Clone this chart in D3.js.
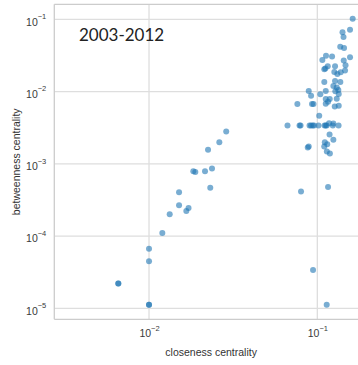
<!DOCTYPE html>
<html>
<head>
<meta charset="utf-8">
<script src="https://cdn.jsdelivr.net/npm/d3@7"></script>
<style>
  html, body { margin: 0; padding: 0; background: #fff; }
  svg { display: block; }
</style>
</head>
<body>
<svg id="chart" width="358" height="365"></svg>
<script>
// ---- data ----
const title = "2003-2012";
const xLabel = "closeness centrality";
const yLabel = "betweenness centrality";
const xTicks = [1e-2, 1e-1];
const yTicks = [1e-5, 1e-4, 1e-3, 1e-2, 1e-1];

const closeness = [
  0.1622, 0.1564, 0.1411, 0.1431, 0.1368, 0.1441, 0.1126, 0.1223, 0.1564, 0.1071,
  0.1435, 0.1471, 0.1153, 0.1274, 0.1100, 0.1116, 0.1262, 0.1377, 0.1461, 0.1315,
  0.1100, 0.1274, 0.1370, 0.1245, 0.1304, 0.1333, 0.0889, 0.1122, 0.1279, 0.0918,
  0.1042, 0.1340, 0.1122, 0.1185, 0.1304, 0.0761, 0.0930, 0.0949, 0.1122, 0.1158,
  0.1269, 0.1340, 0.1026,
  0.0665, 0.0784, 0.0795, 0.0899, 0.0918, 0.0939, 0.0956, 0.1016, 0.1104, 0.1120,
  0.1137, 0.1174, 0.1245, 0.1236, 0.1337,
  0.1182, 0.1245, 0.1108, 0.1145, 0.1099, 0.0877, 0.0889, 0.1139, 0.1187,
  0.02875, 0.02617, 0.02242, 0.02367, 0.02151, 0.01833, 0.01884, 0.02312, 0.01508, 0.01508,
  0.01717, 0.01666, 0.01327, 0.0120, 0.0100, 0.0100, 0.00657, 0.00657, 0.0100, 0.0100,
  0.0800, 0.1158, 0.0943, 0.1137
];
const betweenness = [
  0.1016, 0.0718, 0.0663, 0.0569, 0.0418, 0.0399, 0.0314, 0.0306, 0.0299, 0.0274,
  0.0269, 0.0232, 0.0224, 0.0224, 0.0203, 0.0209, 0.0187, 0.0185, 0.0195, 0.0175,
  0.01358, 0.01402, 0.01358, 0.01195, 0.0114, 0.01052, 0.01019, 0.01019, 0.01009, 0.00878,
  0.00918, 0.00926, 0.0079, 0.0079, 0.00798, 0.00674, 0.00674, 0.00674, 0.0068, 0.00725,
  0.00622, 0.00636, 0.00464,
  0.00338, 0.00338, 0.00338, 0.00338, 0.00338, 0.00338, 0.00338, 0.00338, 0.00338, 0.00338,
  0.00338, 0.00364, 0.00362, 0.00338, 0.00338,
  0.00255, 0.00216, 0.00199, 0.00187, 0.00174, 0.00168, 0.00173, 0.001475, 0.00139,
  0.00279, 0.00199, 0.00157, 0.000864, 0.00079, 0.00079, 0.000768, 0.000467, 0.000405, 0.000268,
  0.000245, 0.000223, 0.000201, 0.0001107, 0.0000665, 0.0000449, 0.0000220, 0.0000220, 0.0000112, 0.0000112,
  0.000413, 0.000479, 0.0000338, 0.0000112
];

// ---- layout ----
const svg = d3.select("#chart");
const padL = 54.3, padR = 368, padT = 4.3, padB = 319.3;

const x = d3.scaleLog().domain([0.002737, 0.2]).range([padL, padR]);
const y = d3.scaleLog().domain([7.05e-6, 0.1612]).range([padB, padT]);

const gridColor = "#dedede";
const spineColor = "#cccccc";
const fontFam = "'Liberation Sans', Arial, sans-serif";

// gridlines
svg.append("g").selectAll("line").data(xTicks).join("line")
  .attr("x1", d => x(d)).attr("x2", d => x(d))
  .attr("y1", padT).attr("y2", padB)
  .attr("stroke", gridColor).attr("stroke-width", 1.3);
svg.append("g").selectAll("line").data(yTicks).join("line")
  .attr("x1", padL).attr("x2", padR)
  .attr("y1", d => y(d)).attr("y2", d => y(d))
  .attr("stroke", gridColor).attr("stroke-width", 1.3);

// spines
svg.append("line").attr("x1", padL).attr("x2", padR).attr("y1", padT).attr("y2", padT)
  .attr("stroke", spineColor).attr("stroke-width", 1.3);
svg.append("line").attr("x1", padL).attr("x2", padR).attr("y1", padB).attr("y2", padB)
  .attr("stroke", spineColor).attr("stroke-width", 1.3);
svg.append("line").attr("x1", padL).attr("x2", padL).attr("y1", padT).attr("y2", padB)
  .attr("stroke", spineColor).attr("stroke-width", 1.3);

function supLabel(sel) {
  sel.text(null);
  sel.append("tspan").text("10");
  sel.append("tspan").attr("dy", "-6.5").attr("font-size", "7.5px")
    .text(d => "\u2212" + Math.round(-Math.log10(d)));
}

// axes
const xAxis = d3.axisBottom(x).tickValues(xTicks).tickSize(0).tickPadding(0);
const gx = svg.append("g").attr("transform", `translate(0,${padB})`).call(xAxis);
gx.select(".domain").remove();
gx.selectAll(".tick text")
  .attr("y", 18).attr("dy", 0)
  .attr("font-family", fontFam).attr("font-size", "10.5px").attr("fill", "#3a3a3a")
  .call(supLabel);

const yAxis = d3.axisLeft(y).tickValues(yTicks).tickSize(0).tickPadding(0);
const gy = svg.append("g").attr("transform", `translate(${padL},0)`).call(yAxis);
gy.select(".domain").remove();
gy.selectAll(".tick text")
  .attr("x", -8).attr("dy", 5.8)
  .attr("font-family", fontFam).attr("font-size", "10.5px").attr("fill", "#3a3a3a")
  .call(supLabel);

// axis labels
svg.append("text").attr("x", (padL + padR) / 2).attr("y", 356)
  .attr("text-anchor", "middle").attr("font-family", fontFam)
  .attr("font-size", "10.5px").attr("fill", "#333").text(xLabel);
svg.append("text")
  .attr("transform", `translate(19.5,${(padT + padB) / 2}) rotate(-90)`)
  .attr("text-anchor", "middle").attr("font-family", fontFam)
  .attr("font-size", "10.5px").attr("fill", "#333").text(yLabel);

// title
svg.append("text").attr("x", 79).attr("y", 41)
  .attr("font-family", "Lato, 'Open Sans', sans-serif")
  .attr("font-size", "17px").attr("fill", "#222").text(title);

// points
const pts = closeness.map((c, i) => ({ c, b: betweenness[i] }));
svg.append("g").selectAll("circle").data(pts).join("circle")
  .attr("cx", d => x(d.c)).attr("cy", d => y(d.b)).attr("r", 3.0)
  .attr("fill", "#1f77b4").attr("fill-opacity", 0.6);
</script>
</body>
</html>
